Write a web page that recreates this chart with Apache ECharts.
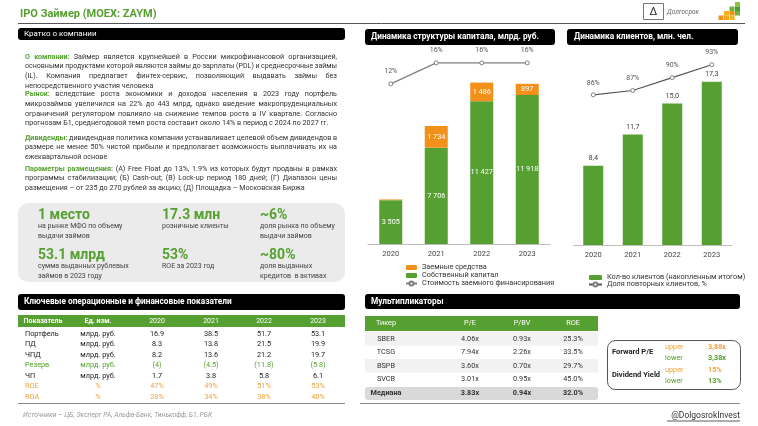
<!DOCTYPE html>
<html><head><meta charset="utf-8">
<script src="https://cdn.jsdelivr.net/npm/echarts@6/dist/echarts.min.js"></script>
<style>html,body{margin:0;padding:0;background:#fff}#c{width:758px;height:426px}</style>
</head><body><div id="c"></div>
<script>
// ---------- DATA ----------
const years = ['2020','2021','2022','2023'];
const ownCapital = [3505, 7706, 11427, 11918];
const borrowed = [60, 1734, 1486, 897];
const borrowCost = [12, 16, 16, 16];
const clients = [8.4, 11.7, 15.0, 17.3];
const repeatShare = [86, 87, 90, 93];

const tblNames = ['Портфель','ПД','ЧПД','Резерв','ЧП','ROE','ROA'];
const tblUnits = ['млрд. руб.','млрд. руб.','млрд. руб.','млрд. руб.','млрд. руб.','%','%'];
const tbl2020 = ['16.9','8.3','8.2','(4)','1.7','47%','28%'];
const tbl2021 = ['38.5','13.8','13.6','(4.5)','3.8','49%','34%'];
const tbl2022 = ['51.7','21.5','21.2','(11.8)','5.8','51%','38%'];
const tbl2023 = ['53.1','19.9','19.7','(5.8)','6.1','53%','40%'];

const multTickers = ['SBER','TCSG','BSPB','SVCB','Медиана'];
const multPE = ['4.06x','7.94x','3.60x','3.01x','3.83x'];
const multPBV = ['0.93x','2.26x','0.70x','0.95x','0.94x'];
const multROE = ['25.3%','33.5%','29.7%','45.0%','32.0%'];

const fwdLabels = ['upper','lower','upper','lower'];
const fwdValues = ['3,88x','3,38x','15%','13%'];

const kpiValues = ['1 место','17.3 млн','~6%','53.1 млрд','53%','~80%'];
const kpiTexts = [['на рынке МФО по объему','выдачи займов'],['розничные клиенты'],['доля рынка по объему','выдачи займов'],
  ['сумма выданных рублевых','займов в 2023 году'],['ROE за 2023 год'],['доля выданных','кредитов  в активах']];

// paragraphs: [heading, lines...]
const paraCompany = ['О компании:', 'Займер является крупнейшей в России микрофинансовой организацией,',
 'основными продуктами которой являются займы до зарплаты (PDL) и среднесрочные займы',
 '(IL). Компания предлагает финтех-сервис, позволяющий выдавать займы без',
 'непосредственного участия человека'];
const paraMarket = ['Рынок:', 'вследствие роста экономики и доходов населения в 2023 году портфель',
 'микрозаймов увеличился на 22% до 443 млрд, однако введение макропруденциальных',
 'ограничений регулятором повлияло на снижение темпов роста в IV квартале. Согласно',
 'прогнозам Б1, среднегодовой темп роста составит около 14% в период с 2024 по 2027 гг.'];
const paraDiv = ['Дивиденды:', 'дивидендная политика компании устанавливает целевой объем дивидендов в',
 'размере не менее 50% чистой прибыли и предполагает возможность выплачивать их на',
 'ежеквартальной основе'];
const paraIpo = ['Параметры размещения:', '(А) Free Float до 13%, 1.9% из которых будут проданы в рамках',
 'программы стабилизации; (Б) Cash-out; (В) Lock-up период 180 дней; (Г) Диапазон цены',
 'размещения – от 235 до 270 рублей за акцию; (Д) Площадка – Московская Биржа'];

// ---------- STYLE ----------
const GREEN = '#55a030', ORANGE = '#f39019', LORANGE = '#f0a23a', FONT = 'Roboto, "Noto Sans", sans-serif';
const fmtSp = v => String(v).replace(/\B(?=(\d{3})+(?!\d))/g, ' ');

const g = [];
function rect(x,y,w,h,fill,r,stroke){ g.push({type:'rect',shape:{x,y,width:w,height:h,r:r||0},style:{fill:fill||'none',stroke:stroke||null,lineWidth:stroke?1:0}}); }
function line(x1,y1,x2,y2,c,w){ g.push({type:'line',shape:{x1,y1,x2,y2},style:{stroke:c,lineWidth:w||1}}); }
function text(x,y,t,o){ o=o||{}; g.push({type:'text',x,y,style:{text:t,fill:o.fill||'#222',fontSize:o.size||7.5,fontFamily:FONT,fontWeight:o.bold?'bold':'normal',fontStyle:o.italic?'italic':'normal',align:o.align||'left',verticalAlign:'middle'}}); }

// justified paragraph layout
const mctx = document.createElement('canvas').getContext('2d');
function measure(t,size,bold){ mctx.font=(bold?'bold ':'')+size+'px '+FONT; return mctx.measureText(t).width; }
function paragraph(p, y0, lh, x0, x1, size0){
  const lines = p.slice(1);
  lines.forEach((ln,i)=>{
    const words=[];
    if(i===0) p[0].split(' ').forEach(w=>words.push({t:w,b:true,c:GREEN}));
    ln.split(' ').filter(w=>w).forEach(w=>words.push({t:w,b:false,c:'#333'}));
    let size=size0;
    let ws = words.map(w=>measure(w.t,size,w.b));
    let total = ws.reduce((a,b)=>a+b,0);
    const minSp = 1.6;
    if(total + minSp*(words.length-1) > x1-x0){
      size = size*(x1-x0-minSp*(words.length-1))/total;
      ws = words.map(w=>measure(w.t,size,w.b));
      total = ws.reduce((a,b)=>a+b,0);
    }
    const last = i===lines.length-1;
    const sp = last ? measure(' ',size,false) : (x1-x0-total)/(words.length-1);
    let x=x0;
    words.forEach((w,k)=>{ text(x,y0+i*lh,w.t,{size,fill:w.c,bold:w.b}); x+=ws[k]+sp; });
  });
}

// header
text(20,14,'IPO Займер (MOEX: ZAYM)',{fill:GREEN,size:11,bold:true});
line(18,23.5,745,23.5,'#555',1);
rect(643.5,3.5,20,16,'#fff',0,'#777');
text(653.5,12,'Δ',{size:11,align:'center',fill:'#222'});
text(667,12,'Долгосрок',{size:6.5,fill:'#666',italic:true});
[[735,2,'#8cc63f'],[729.5,6.5,'#6db33f'],[735,6.5,'#4e9a2d'],[724,11,'#f6b21b'],[729.5,11,'#f39019'],[735,11,'#6db33f'],[718.5,15.5,'#f39019'],[724,15.5,'#f7a823'],[729.5,15.5,'#f6b21b']].forEach(s=>rect(s[0],s[1],5,4.5,s[2]));

// black section boxes
rect(18,28,327,12,'#000',3); text(24,34,'Кратко о компании',{fill:'#fff',size:8});
rect(365,29,190,16,'#000',3); text(371,37,'Динамика структуры капитала, млрд. руб.',{fill:'#fff',size:8.3,bold:true});
rect(567,29,171,16,'#000',3); text(574,37,'Динамика клиентов, млн. чел.',{fill:'#fff',size:8.3,bold:true});
rect(18,294,327,16,'#000',3); text(24,302,'Ключевые операционные и финансовые показатели',{fill:'#fff',size:8.3,bold:true});
rect(365,294,375,15,'#000',3); text(371,301.5,'Мультипликаторы',{fill:'#fff',size:8.3,bold:true});

// paragraphs
paragraph(paraCompany, 57, 9.6, 25, 337, 7.2);
paragraph(paraMarket, 94.5, 9.6, 25, 337, 7.2);
paragraph(paraDiv, 138, 9.6, 25, 337, 7.2);
paragraph(paraIpo, 169, 9.6, 25, 337, 7.2);

// KPI box
rect(18,203,327,79,'#ebebeb',10);
const kx=[38,162,260], ky=[215,255];
kpiValues.forEach((v,i)=>{
  const x=kx[i%3], y=ky[Math.floor(i/3)];
  text(x,y,v,{fill:GREEN,size:14,bold:true});
  kpiTexts[i].forEach((t,j)=>text(x,y+11+j*10,t,{size:7,fill:'#444'}));
});

// left table
rect(18,315,327,12,GREEN);
const colX=[157,211,264,318];
text(43,321,'Показатель',{fill:'#fff',size:7,align:'center',bold:true});
text(98,321,'Ед. изм.',{fill:'#fff',size:7,align:'center',bold:true});
years.forEach((y,i)=>text(colX[i],321,y,{fill:'#fff',size:7,align:'center'}));
const tblCols=[tbl2020,tbl2021,tbl2022,tbl2023];
tblNames.forEach((n,r)=>{
  const y=334+r*10.5;
  const c = n==='Резерв'?GREEN:(r>=5?LORANGE:'#222');
  text(25,y,n,{size:7.3,fill:c});
  text(98,y,tblUnits[r],{size:7.3,fill:c,align:'center'});
  tblCols.forEach((col,i)=>text(colX[i],y,col[r],{size:7.3,fill:c,align:'center'}));
});
line(18,403.5,345,403.5,'#888',1);
text(23,415,'Источники – ЦБ, Эксперт РА, Альфа-Банк, Тинькофф, Б1, РБК',{size:6.8,fill:'#999',italic:true});

// multiples table
rect(365,316,233,15,GREEN);
const mX=[386,470,522,573];
['Тикер','P/E','P/BV','ROE'].forEach((h,i)=>text(mX[i],323.5,h,{fill:'#fff',size:7.3,align:'center'}));
multTickers.forEach((t,r)=>{
  const y0=332+r*13.5;
  if(r===4) rect(365,y0+1,233,13,'#d9d9d9',3);
  else if(r%2===0) rect(365,y0,233,13.5,'#f2f2f2');
  const y=y0+7+(r===4?0.5:0);
  const b=r===4;
  text(mX[0],y,t,{size:7.3,align:'center',bold:b,fill:'#333'});
  text(mX[1],y,multPE[r],{size:7.3,align:'center',bold:b,fill:'#333'});
  text(mX[2],y,multPBV[r],{size:7.3,align:'center',bold:b,fill:'#333'});
  text(mX[3],y,multROE[r],{size:7.3,align:'center',bold:b,fill:'#333'});
});
rect(607.5,340.5,133,49,'none',8,'#555');
text(612,352.5,'Forward P/E',{size:7.5,bold:true});
text(612,375,'Dividend Yield',{size:7.5,bold:true});
fwdLabels.forEach((l,i)=>{
  const y=347+i*11.5, c=l==='upper'?LORANGE:GREEN;
  text(665,y,l,{size:7.3,fill:c});
  text(708,y,fwdValues[i],{size:7.3,fill:c,bold:true});
});
line(360,403.5,740,403.5,'#888',1);
text(740,416,'@DolgosrokInvest',{size:8.5,fill:'#333',align:'right'});
line(667,421,740,421,'#333',0.8);

// ---------- CHARTS ----------
const chart = echarts.init(document.getElementById('c'));
const axisLbl = {color:'#444',fontSize:7.5,fontFamily:FONT,margin:6};
chart.setOption({
  animation:false,
  textStyle:{fontFamily:FONT},
  graphic:{elements:g},
  grid:[{left:368,width:182,top:44,height:200},{left:573.5,width:158,top:45,height:200}],
  xAxis:[
    {type:'category',gridIndex:0,data:years,axisTick:{show:false},axisLine:{lineStyle:{color:'#bfbfbf'}},axisLabel:axisLbl},
    {type:'category',gridIndex:1,data:years,axisTick:{show:false},axisLine:{lineStyle:{color:'#bfbfbf'}},axisLabel:axisLbl}
  ],
  yAxis:[
    {type:'value',gridIndex:0,min:0,max:16000,show:false,splitLine:{show:false}},
    {type:'value',gridIndex:0,min:-18.5,max:19.6,show:false,splitLine:{show:false}},
    {type:'value',gridIndex:1,min:0,max:21.2,show:false,splitLine:{show:false}},
    {type:'value',gridIndex:1,min:51,max:97.6,show:false,splitLine:{show:false}}
  ],
  legend:[
    {left:400,top:259,orient:'vertical',itemGap:1,itemWidth:11,itemHeight:5,textStyle:{fontSize:7.3,color:'#333'},
     data:['Заемные средства','Собственный капитал','Стоимость заемного финансирования']},
    {left:583,top:269,orient:'vertical',itemGap:0,itemWidth:13,itemHeight:5,textStyle:{fontSize:7.3,color:'#333'},
     data:['Кол-во клиентов (накопленным итогом)','Доля повторных клиентов, %']}
  ],
  series:[
    {name:'Собственный капитал',type:'bar',stack:'cap',xAxisIndex:0,yAxisIndex:0,data:ownCapital,barWidth:23,itemStyle:{color:GREEN},
     label:{show:true,position:'inside',color:'#fff',fontSize:7.3,formatter:p=>fmtSp(p.value)}},
    {name:'Заемные средства',type:'bar',stack:'cap',xAxisIndex:0,yAxisIndex:0,data:borrowed,barWidth:23,itemStyle:{color:ORANGE},
     label:{show:true,position:'inside',color:'#fff',fontSize:7.3,formatter:p=>p.value<300?'':fmtSp(p.value)}},
    {name:'Стоимость заемного финансирования',type:'line',xAxisIndex:0,yAxisIndex:1,data:borrowCost,symbol:'circle',symbolSize:4,
     lineStyle:{color:'#7f7f7f',width:1.2},itemStyle:{color:'#fff',borderColor:'#7f7f7f',borderWidth:1},
     label:{show:true,position:'top',distance:7,color:'#555',fontSize:7,formatter:'{c}%'}},
    {name:'Кол-во клиентов (накопленным итогом)',type:'bar',xAxisIndex:1,yAxisIndex:2,data:clients,barWidth:20,itemStyle:{color:GREEN},
     label:{show:true,position:'top',distance:4,color:'#444',fontSize:7.3,formatter:p=>p.value.toFixed(1).replace('.',',')}},
    {name:'Доля повторных клиентов, %',type:'line',xAxisIndex:1,yAxisIndex:3,data:repeatShare,symbol:'circle',symbolSize:4,
     lineStyle:{color:'#555',width:1.2},itemStyle:{color:'#fff',borderColor:'#7f7f7f',borderWidth:1},
     label:{show:true,position:'top',distance:6,color:'#555',fontSize:7,formatter:'{c}%'}}
  ]
});
</script></body></html>
